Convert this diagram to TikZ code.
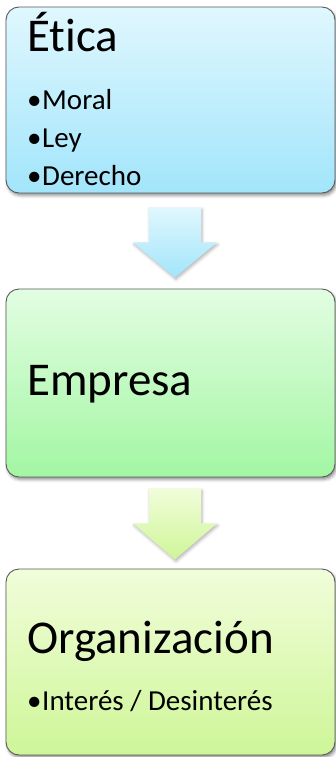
\documentclass[tikz,border=0pt]{standalone}
\usepackage{fontspec}
\setmainfont{Carlito}[Ligatures=NoCommon]
\usetikzlibrary{shadows.blur,calc}
\definecolor{bordergray}{RGB}{90,90,90}
\definecolor{bluetop}{RGB}{224,247,254}
\definecolor{bluebot}{RGB}{162,229,251}
\definecolor{greentop}{RGB}{226,253,226}
\definecolor{greenbot}{RGB}{163,246,163}
\definecolor{limetop}{RGB}{241,253,218}
\definecolor{limebot}{RGB}{206,246,152}
\tikzset{
  x=1pt,y=1pt,
  stagebox/.style={draw=bordergray, line width=0.9pt, rounded corners=13pt,
    minimum width=329pt, inner sep=0pt,
    blur shadow={shadow xshift=1.5pt, shadow yshift=-2.5pt, shadow blur radius=3pt, shadow opacity=45}},
  titletext/.style={anchor=base west, inner sep=0pt, font=\fontsize{47}{50}\selectfont},
  itemtext/.style={anchor=base west, inner sep=0pt, font=\fontsize{29}{32}\selectfont},
  flowarrow/.style={blur shadow={shadow xshift=1pt, shadow yshift=-2pt, shadow blur radius=3pt, shadow opacity=30}}
}
\newcommand{\bul}{\makebox[15pt][l]{•}}
\begin{document}
\begin{tikzpicture}
\useasboundingbox (0,0) rectangle (336,-757);
% boxes
\node[stagebox, minimum height=186pt, top color=bluetop, bottom color=bluebot] (b1) at (170.5,-100) {};
\node[stagebox, minimum height=188pt, top color=greentop, bottom color=greenbot] (b2) at (170.5,-383) {};
\node[stagebox, minimum height=186pt, top color=limetop, bottom color=limebot] (b3) at (170.5,-662) {};
% arrows
\coordinate (a1) at ($(b1.south)+(4.5,-14)$);
\coordinate (a2) at ($(b2.south)+(4.5,-11)$);
\begin{scope}[shift={(a1)}]
\path[flowarrow, top color=bluetop, bottom color=bluebot]
  (-26,0) -- (26,0) -- (26,-35) -- (42,-35) -- (0,-70) -- (-42,-35) -- (-26,-35) -- cycle;
\end{scope}
\begin{scope}[shift={(a2)}]
\path[flowarrow, top color=limetop, bottom color=limebot]
  (-26,0) -- (26,0) -- (26,-35) -- (42,-35) -- (0,-71) -- (-42,-35) -- (-26,-35) -- cycle;
\end{scope}
% texts
\node[titletext] (t1) at (27,-52) {Ética};
\node[itemtext] (i1) at (27,-110) {\bul Moral};
\node[itemtext] (i2) at (27,-147) {\bul Ley};
\node[itemtext] (i3) at (27,-185) {\bul Derecho};
\node[titletext] (t2) at (27,-395) {Empresa};
\node[titletext] (t3) at (27,-653) {Organización};
\node[itemtext] (i4) at (27,-710) {\bul Interés / Desinterés};
\end{tikzpicture}
\end{document}
